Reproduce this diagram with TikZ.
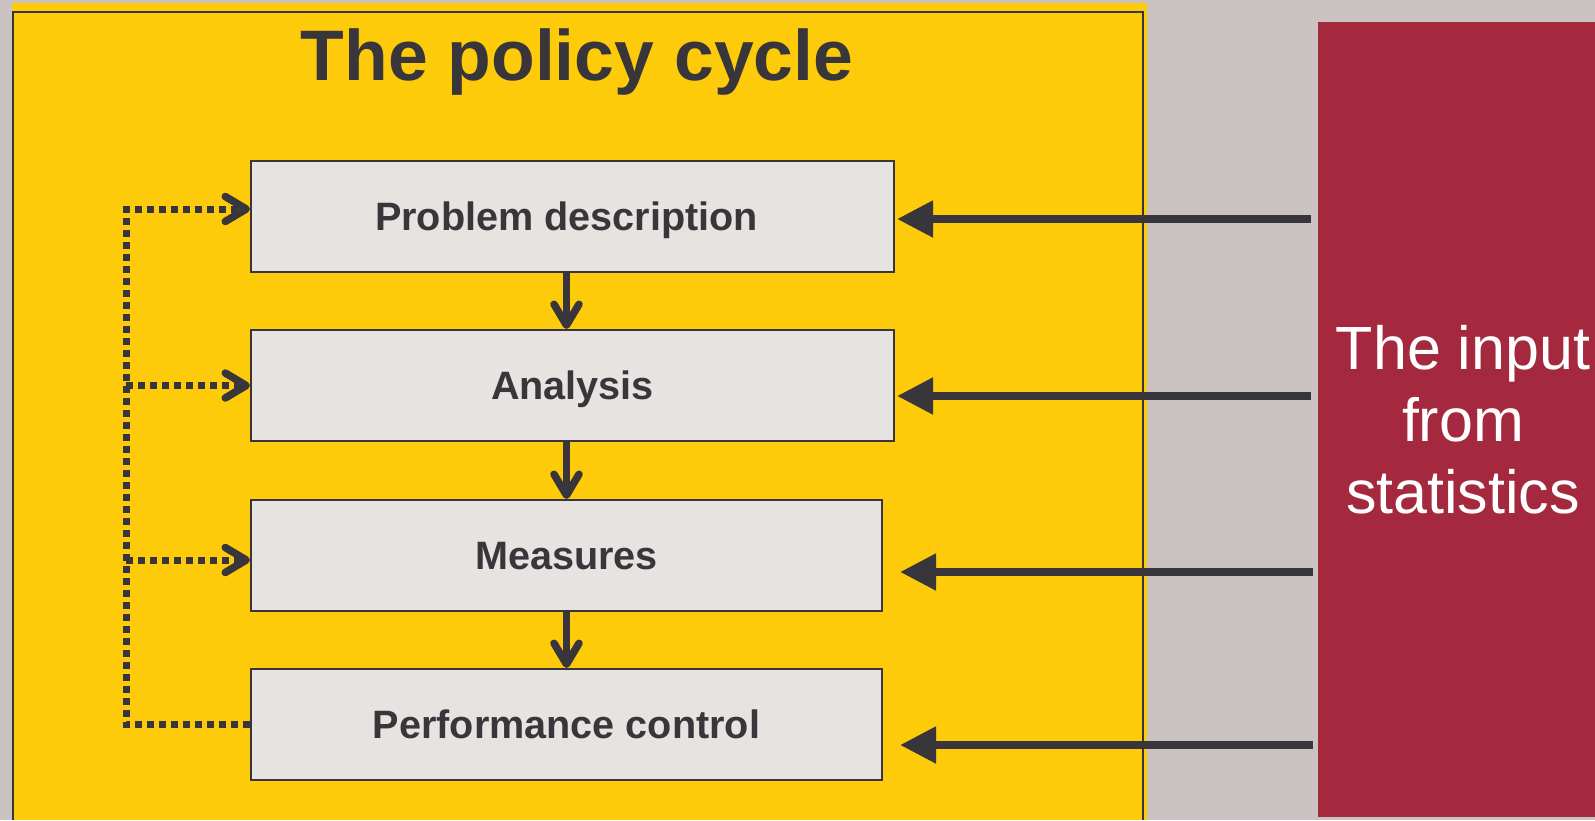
\documentclass[tikz,border=0pt]{standalone}
\usepackage{fontspec}
\setmainfont{Liberation Sans}
\usetikzlibrary{arrows.meta}
\definecolor{bggray}{HTML}{CBC3C1}
\definecolor{polyellow}{HTML}{FDCB0A}
\definecolor{statred}{HTML}{A4293F}
\definecolor{boxfill}{HTML}{E7E3E0}
\definecolor{ink}{HTML}{38363B}
\begin{document}
\begin{tikzpicture}[x=1pt,y=-1pt,
  stagebox/.style={draw=ink, line width=2pt, fill=boxfill, inner sep=0pt,
    text height=28pt, text depth=0pt, text=ink,
    font=\fontsize{39.6}{47}\selectfont\bfseries},
  inarrow/.style={draw=ink, line width=8pt, -{Triangle[length=36pt,width=35pt]}},
  downarrow/.style={draw=ink, line width=6.5pt, -{Straight Barb[length=21pt,width=25pt,round,line width=7.5pt]}},
  fbline/.style={draw=ink, line width=7pt, dash pattern=on 7pt off 5pt},
  fbarrow/.style={fbline, -{Straight Barb[length=21pt,width=25pt,round,line width=7.5pt]}}
]
\useasboundingbox (0,0) rectangle (1595,820);
\fill[bggray] (0,0) rectangle (1595,820);
\fill[polyellow] (12,3) rectangle (1147,820);
\draw[ink, line width=2pt] (13,820) -- (13,12) -- (1143,12) -- (1143,820);

\node[inner sep=0pt, text height=51pt, text depth=0pt, text=ink,
  font=\fontsize{71.5}{80}\selectfont\bfseries] (title) at (577,55) {The policy cycle};

\node[stagebox, minimum width=643pt, minimum height=111pt] (pd) at (572.5,216.5) {Problem description\hspace*{12pt}};
\node[stagebox, minimum width=643pt, minimum height=111pt] (an) at (572.5,385.5) {Analysis};
\node[stagebox, minimum width=631pt, minimum height=111pt] (ms) at (566.5,555.5) {Measures};
\node[stagebox, minimum width=631pt, minimum height=111pt] (pc) at (566.5,724.5) {Performance control};

\node[fill=statred, inner sep=0pt, minimum width=290pt, minimum height=795pt, anchor=north west] (src) at (1318,22) {};
\node[text=white, align=center, inner sep=0pt, font=\fontsize{61}{72}\selectfont] (srctext) at (1463,419.5) {The input\\from\\statistics};

% inputs from statistics
\coordinate (s1) at (1311,219);
\coordinate (s2) at (1311,396);
\coordinate (s3) at (1313,572);
\coordinate (s4) at (1313,745);
\draw[inarrow] (s1) -- ([xshift=2pt]pd.east |- s1);
\draw[inarrow] (s2) -- ([xshift=2pt]an.east |- s2);
\draw[inarrow] (s3) -- ([xshift=17pt]ms.east |- s3);
\draw[inarrow] (s4) -- ([xshift=17pt]pc.east |- s4);

% cycle steps
\draw[downarrow] ([xshift=-6pt]pd.south) -- ([xshift=-6pt]an.north);
\draw[downarrow] ([xshift=-6pt]an.south) -- (ms.north);
\draw[downarrow] (ms.south) -- (pc.north);

% feedback
\coordinate (fbx) at (126,0);
\coordinate (pdin) at ([yshift=7.5pt]pd.west);
\coordinate (msin) at ([yshift=-4.5pt]ms.west);
\draw[fbarrow] (pc.west) -- (pc.west -| fbx) -- (pdin -| fbx) -- (pdin);
\draw[fbarrow] (an.west -| fbx) -- (an.west);
\draw[fbarrow] (msin -| fbx) -- (msin);
\end{tikzpicture}
\end{document}
